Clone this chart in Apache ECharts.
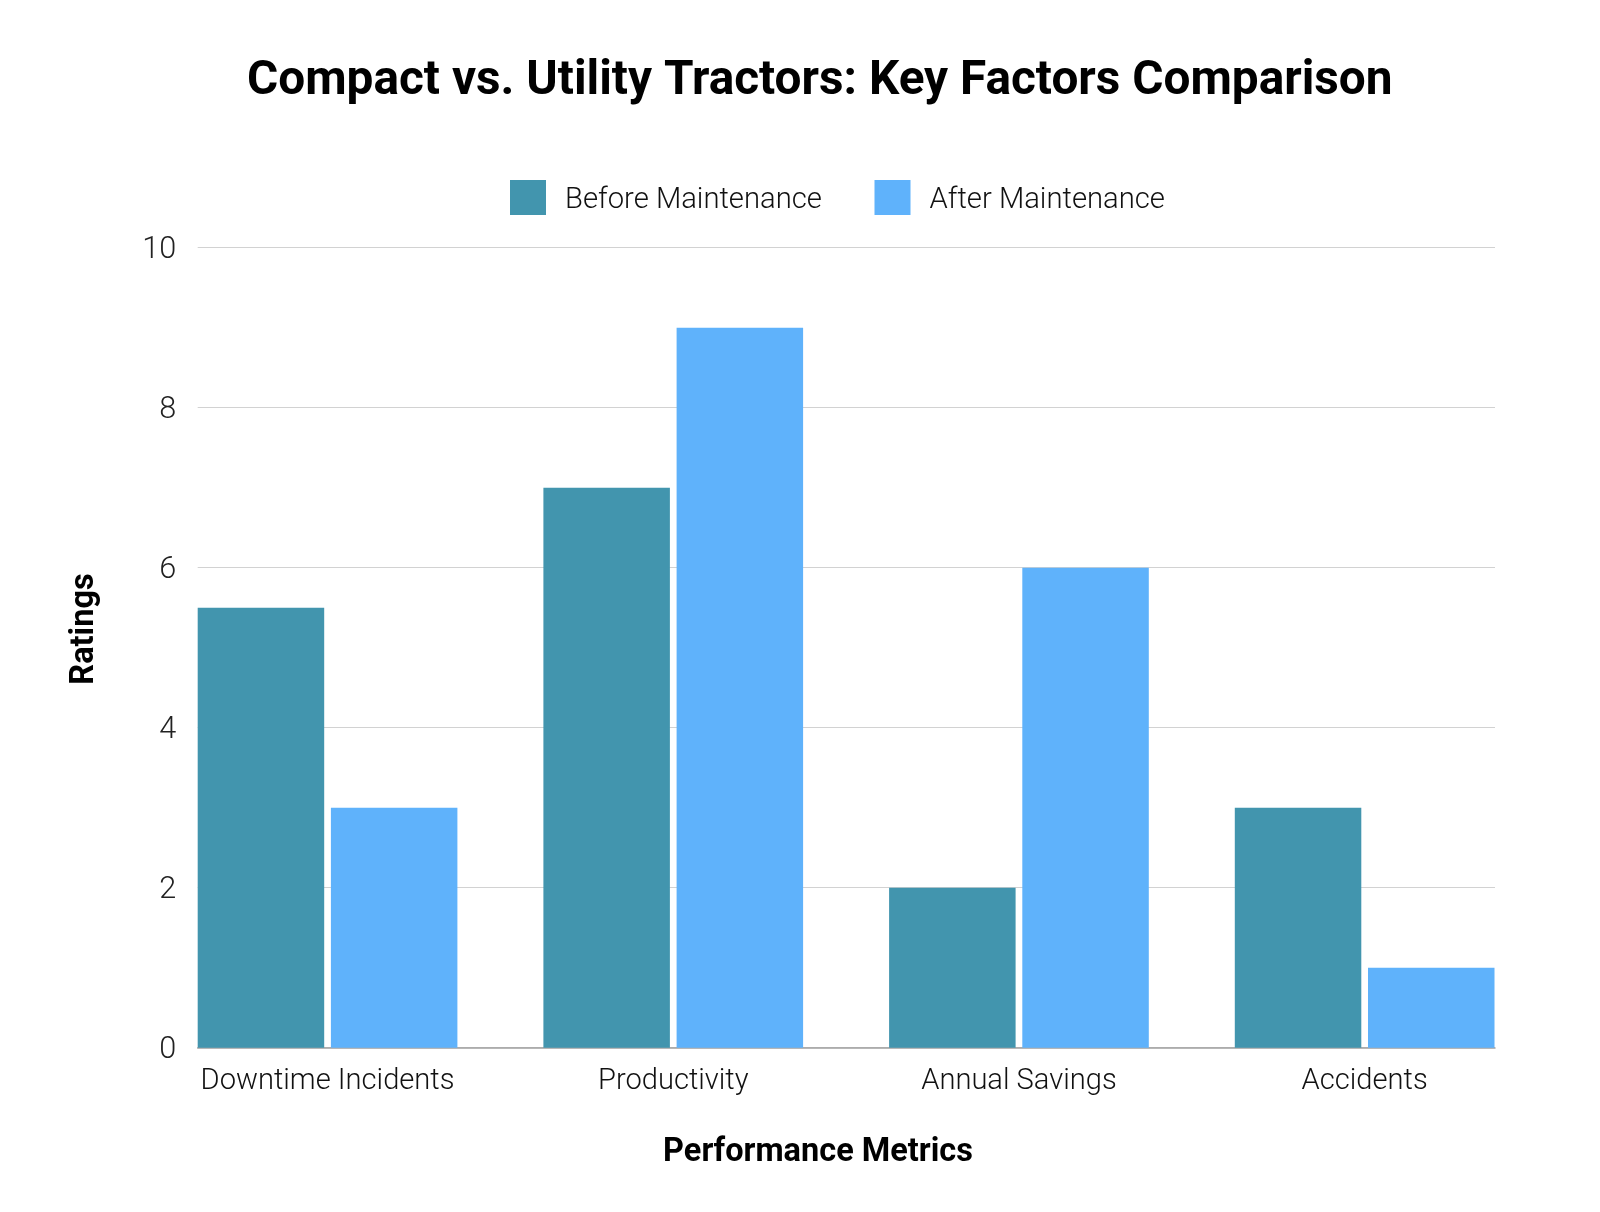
<!DOCTYPE html>
<html>
<head>
<meta charset="utf-8">
<script src="https://cdn.jsdelivr.net/npm/echarts@6/dist/echarts.min.js"></script>
<style>html,body{margin:0;padding:0;background:#fff}#chart{width:1600px;height:1212px}</style>
</head>
<body>
<div id="chart"></div>
<script>
const titleText = 'Compact vs. Utility Tractors: Key Factors Comparison';
const categories = ['Downtime Incidents', 'Productivity', 'Annual Savings', 'Accidents'];
const seriesNames = ['Before Maintenance', 'After Maintenance'];
const beforeValues = [5.5, 7, 2, 3];
const afterValues = [3, 9, 6, 1];
const yTicks = [0, 2, 4, 6, 8, 10];
const xAxisName = 'Performance Metrics';
const yAxisName = 'Ratings';

const FONT = 'Roboto';
const ctx = document.createElement('canvas').getContext('2d');
function fit(text, weight, target) {
  ctx.font = weight + ' 100px ' + FONT;
  return 100 * target / ctx.measureText(text).width;
}
const titleSize = fit(titleText, 'bold', 1146);
const tickSize = fit('10', 300, 34);
const labelSize = fit(categories[0], 300, 254);
const legendSize = fit(seriesNames[0], 300, 257);
const nameSize = fit(xAxisName, 'bold', 310);

const plotTop = 247.7, plotBottom = 1047.7;
const yMin = yTicks[0], yMax = yTicks[yTicks.length - 1], yInt = yTicks[1] - yTicks[0];

const legendText = {
  fontFamily: FONT, fontWeight: 300, fontSize: legendSize, color: '#111',
  rich: {t: {fontFamily: FONT, fontWeight: 300, fontSize: legendSize, color: '#111', padding: [6, 0, 0, 14]}}
};

const chart = echarts.init(document.getElementById('chart'), null, {renderer: 'canvas'});
chart.setOption({
  backgroundColor: '#ffffff',
  animation: false,
  title: {
    text: titleText,
    left: 814.8,
    top: 82.5 - titleSize / 2 - 5,
    textAlign: 'center',
    textStyle: {fontFamily: FONT, fontWeight: 'bold', fontSize: titleSize, lineHeight: titleSize, color: '#000'}
  },
  legend: [
    {
      data: [seriesNames[0]], left: 505, top: 175, itemWidth: 36, itemHeight: 35, icon: 'rect',
      formatter: n => '{t|' + n + '}', textStyle: legendText
    },
    {
      data: [seriesNames[1]], left: 869.5, top: 175, itemWidth: 36, itemHeight: 35, icon: 'rect',
      formatter: n => '{t|' + n + '}', textStyle: legendText
    }
  ],
  grid: [
    {left: 197.7, right: 105, top: plotTop, bottom: 1212 - plotBottom},
    {left: 154.7, right: 62.5, top: plotTop, bottom: 1212 - plotBottom}
  ],
  xAxis: [
    {
      type: 'category', gridIndex: 0, data: categories,
      axisLine: {show: true, lineStyle: {color: '#a0a0a0', width: 1.5}},
      axisTick: {show: false}, axisLabel: {show: false}, splitLine: {show: false}
    },
    {
      type: 'category', gridIndex: 1, data: categories,
      axisLine: {show: false}, axisTick: {show: false}, splitLine: {show: false},
      axisLabel: {fontFamily: FONT, fontWeight: 300, fontSize: labelSize, lineHeight: labelSize, color: '#111',
        margin: 1081.5 - plotBottom - labelSize / 2}
    }
  ],
  yAxis: [
    {
      type: 'value', gridIndex: 0, min: yMin, max: yMax, interval: yInt,
      axisLine: {show: false}, axisTick: {show: false},
      axisLabel: {fontFamily: FONT, fontWeight: 300, fontSize: tickSize, color: '#222', margin: 21.5,
        formatter: '{t|{value}}',
        rich: {t: {fontFamily: FONT, fontWeight: 300, fontSize: tickSize, color: '#222', padding: [5, 0, 0, 0]}}},
      splitLine: {lineStyle: {color: '#d2d2d2', width: 1.2}}
    },
    {
      type: 'value', gridIndex: 1, min: yMin, max: yMax, interval: yInt, show: false,
      splitLine: {show: false}
    }
  ],
  series: [
    {
      name: seriesNames[0], type: 'bar', xAxisIndex: 1, yAxisIndex: 1, data: beforeValues,
      barWidth: 126.5, barGap: '5.3%',
      itemStyle: {color: '#4295AE'}
    },
    {
      name: seriesNames[1], type: 'bar', xAxisIndex: 1, yAxisIndex: 1, data: afterValues,
      barWidth: 126.5, barGap: '5.3%',
      itemStyle: {color: '#5FB2FB'}
    }
  ],
  graphic: [
    {
      type: 'text', x: 818, y: 1152.5,
      style: {text: xAxisName, fontFamily: FONT, fontWeight: 'bold', fontSize: nameSize, fill: '#000',
        textAlign: 'center', textVerticalAlign: 'middle', align: 'center', verticalAlign: 'middle'}
    },
    {
      type: 'text', x: 85, y: 629, rotation: Math.PI / 2,
      style: {text: yAxisName, fontFamily: FONT, fontWeight: 'bold', fontSize: nameSize, fill: '#000',
        textAlign: 'center', textVerticalAlign: 'middle', align: 'center', verticalAlign: 'middle'}
    }
  ]
});
</script>
</body>
</html>
